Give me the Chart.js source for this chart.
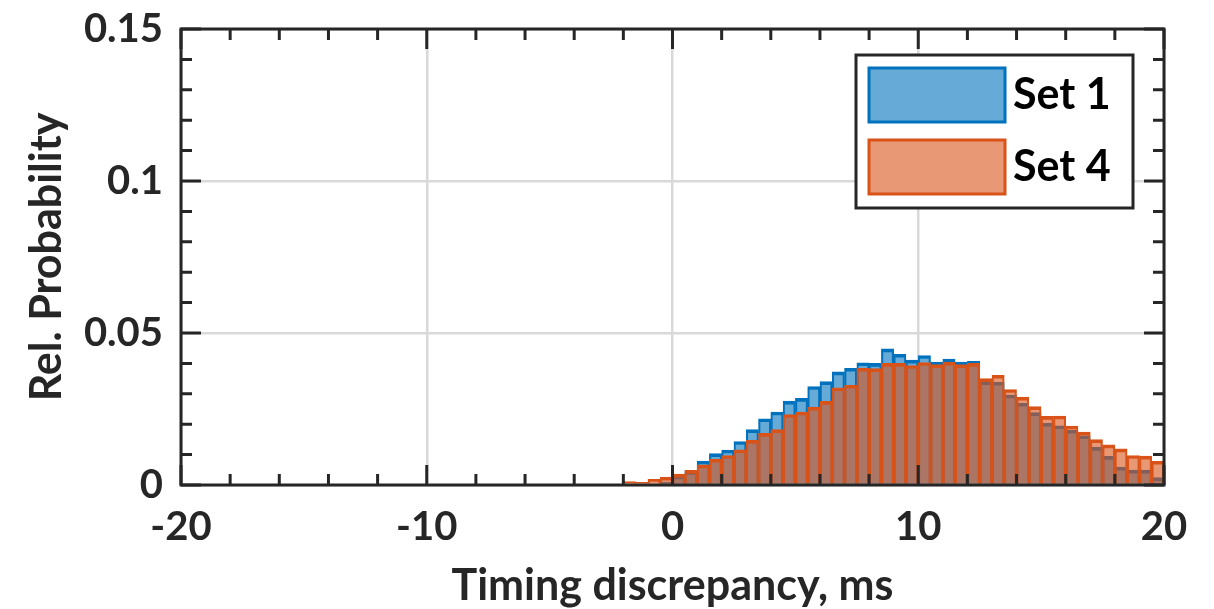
<!DOCTYPE html>
<html>
<head>
<meta charset="utf-8">
<script src="https://cdn.jsdelivr.net/npm/chart.js@4.4.0/dist/chart.umd.min.js"></script>
<style>
  html, body { margin: 0; padding: 0; background: #fff; }
  #grafico { display: block; }
</style>
</head>
<body>
<canvas id="grafico" width="1214" height="609"></canvas>
<script>
// centros de los bins (ms), cada bin mide 0.5 ms
const centros = [-1.75, -1.25, -0.75, -0.25, 0.25, 0.75, 1.25, 1.75, 2.25, 2.75,
  3.25, 3.75, 4.25, 4.75, 5.25, 5.75, 6.25, 6.75, 7.25, 7.75,
  8.25, 8.75, 9.25, 9.75, 10.25, 10.75, 11.25, 11.75, 12.25, 12.75,
  13.25, 13.75, 14.25, 14.75, 15.25, 15.75, 16.25, 16.75, 17.25, 17.75,
  18.25, 18.75, 19.25, 19.75];

const set1 = [0, 0, 0, 0.001, 0.003, 0.0045, 0.0079, 0.0103, 0.0115, 0.0143,
  0.0182, 0.0218, 0.0240, 0.0276, 0.0285, 0.0324, 0.0340, 0.0372, 0.0384, 0.0402,
  0.0400, 0.0448, 0.0430, 0.0411, 0.0426, 0.0404, 0.0414, 0.0404, 0.0407, 0.0340,
  0.0338, 0.0296, 0.0269, 0.0238, 0.0203, 0.0195, 0.0180, 0.0162, 0.0124, 0.0094,
  0.0059, 0.0049, 0.0049, 0.0024];

const set4 = [0.0011, 0.0009, 0.0019, 0.0026, 0.0036, 0.0048, 0.0066, 0.0085, 0.0097, 0.0116,
  0.0147, 0.0170, 0.0182, 0.0232, 0.0240, 0.0256, 0.0275, 0.0320, 0.0328, 0.0384,
  0.0383, 0.0400, 0.0400, 0.0393, 0.0403, 0.0396, 0.0404, 0.0396, 0.0400, 0.0350,
  0.0361, 0.0314, 0.0289, 0.0258, 0.0226, 0.0227, 0.0194, 0.0174, 0.0149, 0.0132,
  0.0119, 0.0097, 0.0095, 0.0078];

const nombres = ['Set 1', 'Set 4'];
const xTicks = [-20, -10, 0, 10, 20];
const yTicks = [0, 0.05, 0.1, 0.15];
const yTickLabels = ['0', '0.05', '0.1', '0.15'];

const azul = '#0072BD';
const azulRelleno = 'rgba(0, 114, 189, 0.6)';
const naranja = '#D95319';
const naranjaRelleno = 'rgba(217, 83, 25, 0.6)';
const ejeColor = '#262626';
const fuente = 'Lato, "Open Sans", "DejaVu Sans", sans-serif';

function puntos(valores) {
  return centros.map((c, i) => ({ x: c, y: valores[i] }));
}

// marco negro con las marcas hacia dentro (estilo matlab)
const marco = {
  id: 'marco',
  afterDatasetsDraw(chart) {
    const { ctx, chartArea: a, scales } = chart;
    const x = scales.x, y = scales.y;
    ctx.save();
    ctx.strokeStyle = ejeColor;
    ctx.lineWidth = 3;
    ctx.beginPath();
    for (let v = -20; v <= 20; v += 2) {
      const px = x.getPixelForValue(v);
      const largo = v % 10 === 0 ? 20 : 11;
      ctx.moveTo(px, a.bottom); ctx.lineTo(px, a.bottom - largo);
      ctx.moveTo(px, a.top); ctx.lineTo(px, a.top + largo);
    }
    for (let k = 0; k <= 15; k++) {
      const py = y.getPixelForValue(k / 100);
      const largo = k % 5 === 0 ? 20 : 11;
      ctx.moveTo(a.left, py); ctx.lineTo(a.left + largo, py);
      ctx.moveTo(a.right, py); ctx.lineTo(a.right - largo, py);
    }
    ctx.stroke();
    ctx.strokeRect(a.left, a.top, a.right - a.left, a.bottom - a.top);
    ctx.restore();
  }
};

// leyenda dentro del area, arriba a la derecha
const leyenda = {
  id: 'leyenda',
  afterDraw(chart) {
    const { ctx, chartArea: a } = chart;
    const ancho = 277, alto = 153;
    const bx = a.right - 31 - ancho, by = a.top + 26;
    ctx.save();
    ctx.fillStyle = '#fff';
    ctx.fillRect(bx, by, ancho, alto);
    ctx.strokeStyle = ejeColor;
    ctx.lineWidth = 3;
    ctx.strokeRect(bx, by, ancho, alto);
    const rellenos = [azulRelleno, naranjaRelleno];
    const bordes = [azul, naranja];
    const centrosY = [by + 40, by + 112];
    for (let i = 0; i < nombres.length; i++) {
      const cy = centrosY[i];
      ctx.fillStyle = rellenos[i];
      ctx.fillRect(bx + 13, cy - 27, 136, 54);
      ctx.strokeStyle = bordes[i];
      ctx.lineWidth = 3;
      ctx.strokeRect(bx + 13, cy - 27, 136, 54);
      ctx.fillStyle = '#000';
      ctx.font = 'bold 43px ' + fuente;
      ctx.textAlign = 'left';
      ctx.textBaseline = 'middle';
      ctx.fillText(nombres[i], bx + 157, cy);
    }
    ctx.restore();
  }
};

const grafico = new Chart(document.getElementById('grafico'), {
  type: 'bar',
  data: {
    datasets: [
      {
        label: nombres[0],
        data: puntos(set1),
        backgroundColor: azulRelleno,
        borderColor: azul,
        borderWidth: { top: 3, left: 1.5, right: 1.5, bottom: 0 },
        borderSkipped: false,
        order: 2
      },
      {
        label: nombres[1],
        data: puntos(set4),
        backgroundColor: naranjaRelleno,
        borderColor: naranja,
        borderWidth: { top: 3, left: 1.5, right: 1.5, bottom: 0 },
        borderSkipped: false,
        order: 1
      }
    ]
  },
  options: {
    responsive: false,
    animation: false,
    devicePixelRatio: 1,
    grouped: false,
    barPercentage: 1,
    categoryPercentage: 1,
    layout: { padding: { top: 29, right: 50, left: 0, bottom: 0 } },
    plugins: {
      legend: { display: false },
      tooltip: { enabled: false }
    },
    scales: {
      x: {
        type: 'linear',
        min: -20,
        max: 20,
        offset: false,
        afterBuildTicks: (s) => { s.ticks = xTicks.map(v => ({ value: v })); },
        afterFit: (s) => { s.height = 124; },
        ticks: {
          color: ejeColor,
          font: { family: fuente, size: 40, weight: 'bold' },
          padding: 18,
          maxRotation: 0,
          callback: (v) => String(v)
        },
        grid: { color: '#d9d9d9', lineWidth: 2.5, drawTicks: false, offset: false },
        border: { display: false },
        title: {
          display: true,
          text: 'Timing discrepancy, ms',
          color: ejeColor,
          font: { family: fuente, size: 43, weight: 'bold', lineHeight: 1 },
          padding: { top: 0, bottom: 1 }
        }
      },
      y: {
        min: 0,
        max: 0.15,
        afterBuildTicks: (s) => { s.ticks = yTicks.map(v => ({ value: v })); },
        afterFit: (s) => { s.width = 181; s.paddingTop = 0; s.paddingBottom = 0; },
        ticks: {
          color: ejeColor,
          font: { family: fuente, size: 40, weight: 'bold' },
          padding: 18,
          callback: (v) => yTickLabels[yTicks.indexOf(v)] ?? ''
        },
        grid: { color: '#d9d9d9', lineWidth: 2.5, drawTicks: false },
        border: { display: false },
        title: {
          display: true,
          text: 'Rel. Probability',
          color: ejeColor,
          font: { family: fuente, size: 43, weight: 'bold', lineHeight: 1 },
          padding: { top: 26, bottom: 0 }
        }
      }
    }
  },
  plugins: [marco, leyenda]
});
</script>
</body>
</html>
